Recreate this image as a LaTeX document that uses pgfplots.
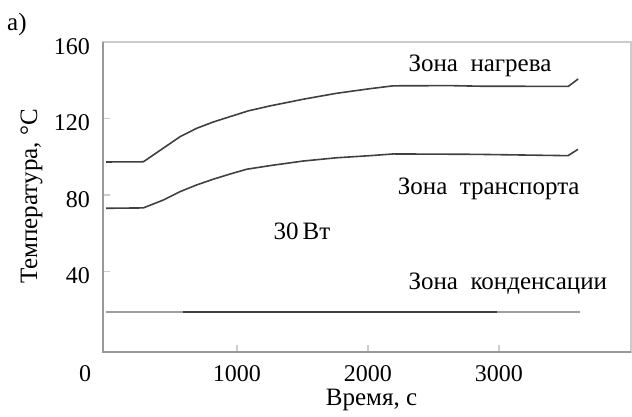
\documentclass[border=0pt]{standalone}
\usepackage{fontspec}
\setmainfont{Liberation Serif}
\usepackage{pgfplots}
\pgfplotsset{compat=1.18}
\definecolor{axdark}{gray}{0.6}
\definecolor{axlight}{gray}{0.8}
\definecolor{curve}{gray}{0.25}
\definecolor{lcurve}{gray}{0.62}
\begin{document}
\fontsize{24bp}{28bp}\selectfont
\begin{tikzpicture}
\useasboundingbox (0,0) rectangle (632bp,417bp);
\begin{axis}[
  at={(103bp,65bp)}, anchor=south west,
  scale only axis, width=528bp, height=310bp,
  xmin=-23, xmax=4008, ymin=-2, ymax=160,
  clip=false,
  xtick={1000,2000,3000}, ytick={40,80,120,160},
  extra x ticks={0},
  extra x tick style={major tick length=0pt, xticklabel style={xshift=-21bp}},
  tick pos=left, tick align=inside,
  major tick length=7bp,
  tick style={axlight, line width=1.5bp},
  axis line style={axlight, line width=1.2bp},
  /pgf/number format/assume math mode=true,
  /pgf/number format/1000 sep={},
  xticklabel style={anchor=base, inner sep=0pt, yshift=-29.5bp},
  yticklabel style={anchor=base east, inner sep=0pt, xshift=-13bp, yshift=-12.3bp},
  ticklabel style={font=\fontsize{24bp}{28bp}\selectfont},
]
\draw[axdark, line width=2bp] (rel axis cs:0,1) -- (rel axis cs:0,0) -- (rel axis cs:1,0);
% Zona nagreva
\addplot[curve, line width=1.6bp] coordinates {
(0,97.3) (285,97.4) (437,104.5) (565,110.5) (692,114.9) (819,118.2) (947,121.0)
(1086,124.0) (1252,126.6) (1506,130.1) (1761,133.2) (2015,135.6)
(2193,137.1) (2626,137.2) (2855,136.9) (3529,136.8) (3605,140.7)};
% Zona transporta
\addplot[curve, line width=1.6bp] coordinates {
(0,73.1) (285,73.3) (437,77.4) (565,81.8) (692,85.3) (819,88.3) (947,91.0)
(1074,93.5) (1252,95.4) (1506,97.8) (1761,99.5) (2015,100.6)
(2193,101.5) (2817,101.3) (3527,100.6) (3603,103.9)};
% Zona kondensatsii
\addplot[lcurve, line width=1.6bp] coordinates {(0,18.8) (590,18.8)};
\addplot[curve, line width=1.4bp] coordinates {(590,18.8) (2985,18.8)};
\addplot[lcurve, line width=1.4bp] coordinates {(2985,18.8) (3618,18.8)};
\end{axis}
\begin{scope}[every node/.style={inner sep=0pt, font=\fontsize{25bp}{30bp}\selectfont}]
\node[anchor=base west] at (7bp,386.3bp) {a)};
\node[anchor=base, rotate=90] at (37bp,220.5bp) {Температура, °C};
\node[anchor=base] at (371.5bp,12bp) {Время, с};
\node[anchor=base west] at (408.3bp,345.3bp) {Зона\enspace нагрева};
\node[anchor=base west] at (397.7bp,222bp) {Зона\enspace транспорта};
\node[anchor=base west] at (273.3bp,177bp) {30\,Вт};
\node[anchor=base west] at (408.3bp,127bp) {Зона\enspace конденсации};
\end{scope}
\end{tikzpicture}
\end{document}
